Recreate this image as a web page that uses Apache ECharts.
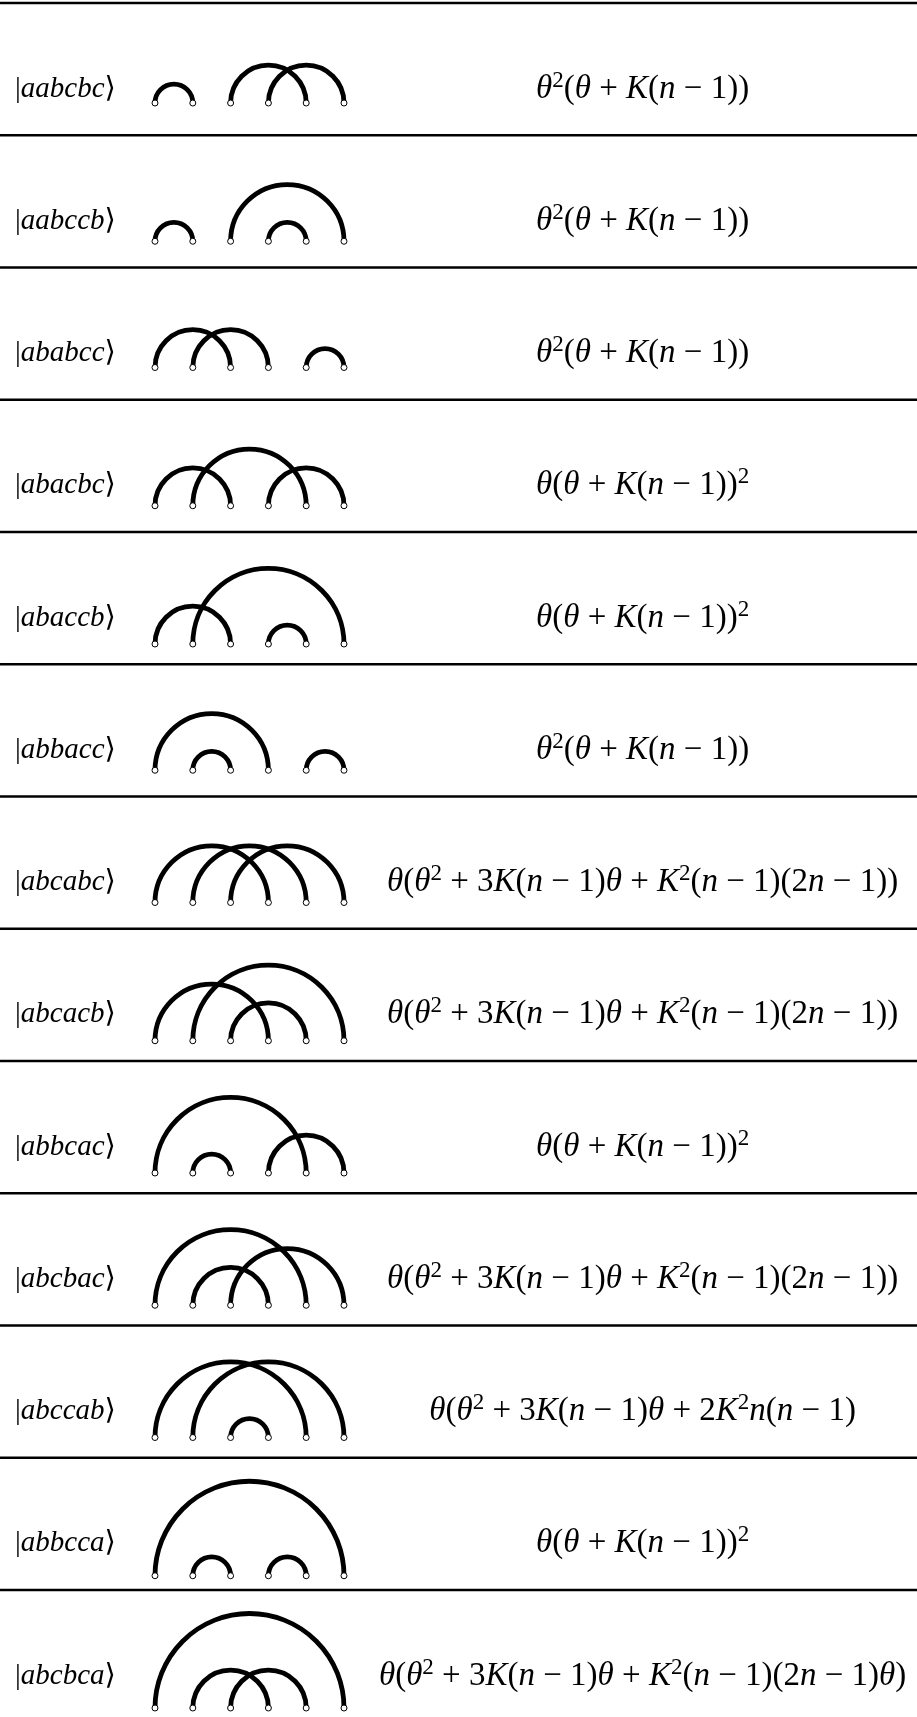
<!DOCTYPE html>
<html style="height: 100%">
<head>
  <meta charset="utf-8">
</head>
<body style="height: 100%; margin: 0; background: #fff">
  <div id="container" style="height: 100%"></div>

  <script type="text/javascript" src="https://cdn.jsdelivr.net/npm/echarts@6/dist/echarts.min.js"></script>
  <script type="text/javascript">
    // one row per state; the arcs join equal letters
    var states = ['aabcbc', 'aabccb', 'ababcc', 'abacbc', 'abaccb', 'abbacc', 'abcabc',
                  'abcacb', 'abbcac', 'abcbac', 'abccab', 'abbcca', 'abcbca'];
    var formulas = [
      'θ²(θ + K(n − 1))',
      'θ²(θ + K(n − 1))',
      'θ²(θ + K(n − 1))',
      'θ(θ + K(n − 1))²',
      'θ(θ + K(n − 1))²',
      'θ²(θ + K(n − 1))',
      'θ(θ² + 3K(n − 1)θ + K²(n − 1)(2n − 1))',
      'θ(θ² + 3K(n − 1)θ + K²(n − 1)(2n − 1))',
      'θ(θ + K(n − 1))²',
      'θ(θ² + 3K(n − 1)θ + K²(n − 1)(2n − 1))',
      'θ(θ² + 3K(n − 1)θ + 2K²n(n − 1)',
      'θ(θ + K(n − 1))²',
      'θ(θ² + 3K(n − 1)θ + K²(n − 1)(2n − 1)θ)'
    ];

    var font = "'Liberation Serif', 'DejaVu Serif', serif";

    function makeRich(size) {
      var lh = Math.round(size * 1.2);
      return {
        i: { fontStyle: 'italic', fontSize: size, fontFamily: font, fill: '#000', lineHeight: lh },
        r: { fontSize: size, fontFamily: font, fill: '#000', lineHeight: lh },
        s: { fontSize: Math.round(size * 0.7), fontFamily: font, fill: '#000',
             lineHeight: Math.round(size * 0.6), verticalAlign: 'top' }
      };
    }
    var labelRich = makeRich(29);
    var formulaRich = makeRich(33);

    function pairsOf(word) {
      var arcs = [];
      for (var i = 0; i < word.length; i++) {
        for (var j = i + 1; j < word.length; j++) {
          if (word[i] === word[j]) arcs.push([i, j]);
        }
      }
      return arcs;
    }

    // letters in italic, the rest upright, ² as a raised 2, like TeX math
    function toRich(str) {
      var out = '', cur = '', kind = null;
      for (var ch of str) {
        var k = ch === '²' ? 's' : (/[a-zA-Zθ]/.test(ch) ? 'i' : 'r');
        if (ch === '²') ch = '2';
        if (cur && k !== kind) {
          out += '{' + kind + '|' + cur + '}';
          cur = '';
        }
        kind = k;
        cur += ch;
      }
      if (cur) out += '{' + kind + '|' + cur + '}';
      return out;
    }

    var dom = document.getElementById('container');
    var myChart = echarts.init(dom);

    function renderRow(params, api) {
      var row = api.value(1);
      var word = states[row];
      var arcs = pairsOf(word);
      var center = api.coord([0, row]);
      var maxSpan = 0;
      arcs.forEach(function (p) { maxSpan = Math.max(maxSpan, p[1] - p[0]); });
      var base = center[1] + 2 + 6 * maxSpan;
      var children = [];

      arcs.forEach(function (p) {
        var c = api.coord([(p[0] + p[1]) / 2, row]);
        var r = api.size([(p[1] - p[0]) / 2, 0])[0];
        children.push({
          type: 'arc',
          shape: { cx: c[0], cy: base, r: r, startAngle: Math.PI, endAngle: 2 * Math.PI, clockwise: true },
          style: { stroke: '#000', lineWidth: 4.8, fill: null }
        });
      });
      for (var k = 0; k < word.length; k++) {
        var pt = api.coord([k, row]);
        children.push({
          type: 'circle',
          shape: { cx: pt[0], cy: base, r: 3 },
          style: { fill: '#fff', stroke: '#000', lineWidth: 1 }
        });
      }

      var lp = api.coord([-2.37, row]);
      children.push({
        type: 'text',
        x: lp[0], y: lp[1],
        style: { text: toRich('|' + word + '⟩'), rich: labelRich, align: 'center', verticalAlign: 'middle' }
      });
      var fp = api.coord([12.9, row]);
      children.push({
        type: 'text',
        x: fp[0], y: fp[1],
        style: { text: toRich(formulas[row]), rich: formulaRich, align: 'center', verticalAlign: 'middle' }
      });

      // rule above the row
      var l1 = api.coord([-4.1, row - 0.65]);
      var l2 = api.coord([20.16, row - 0.65]);
      children.push({
        type: 'line',
        shape: { x1: l1[0], y1: l1[1], x2: l2[0], y2: l2[1] },
        style: { stroke: '#000', lineWidth: 2.6 }
      });

      return { type: 'group', children: children };
    }

    var option = {
      animation: false,
      grid: { left: 0, right: 0, top: 0, bottom: 0 },
      xAxis: { type: 'value', min: -4.1005, max: 20.159, show: false },
      yAxis: { type: 'value', min: -0.673, max: 12.31, inverse: true, show: false },
      series: [
        {
          type: 'custom',
          renderItem: renderRow,
          clip: false,
          encode: { x: 0, y: 1 },
          data: states.map(function (s, i) { return [0, i]; })
        }
      ]
    };

    myChart.setOption(option);
  </script>
</body>
</html>
